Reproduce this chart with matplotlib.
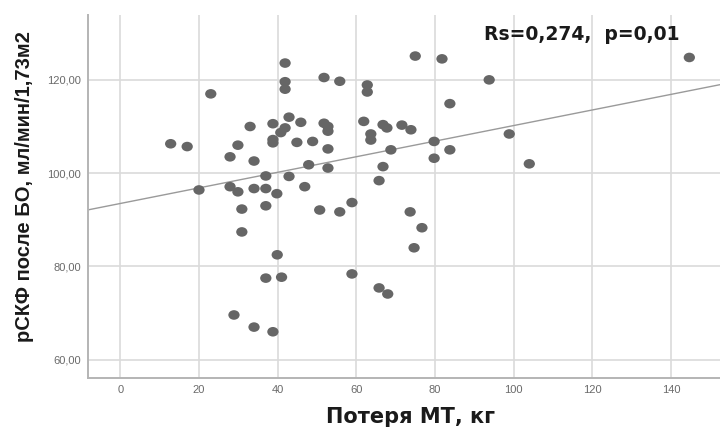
import numpy as np
import matplotlib
matplotlib.use("Agg")
import matplotlib.pyplot as plt
from matplotlib.path import Path
from matplotlib.transforms import Affine2D
from matplotlib.ticker import FuncFormatter, FixedLocator

# Data
weight_loss = [12.8, 17.0, 23.0, 20.0, 27.9, 29.9, 33.0, 34.0, 27.9, 29.9,
               34.0, 37.0, 37.0, 39.8, 30.9, 37.0, 38.8, 38.8, 38.8, 41.9,
               41.9, 41.9, 42.9, 41.9, 40.8, 45.9, 44.9, 48.9, 47.9, 42.9,
               46.9, 51.8, 55.8, 51.8, 52.8, 52.8, 52.8, 52.8, 50.7, 55.8,
               58.9, 61.9, 75.0, 81.8, 62.8, 62.8, 93.8, 83.8, 144.7, 66.8,
               67.8, 71.6, 73.9, 63.7, 63.7, 68.8, 79.8, 79.8, 83.8, 98.9,
               104.0, 66.8, 65.8, 73.7, 30.9, 39.9, 37.0, 41.0, 58.9, 28.9,
               34.0, 38.8, 76.7, 74.7, 65.8, 68.0]
egfr_after = [106.3, 105.7, 117.0, 96.4, 103.5, 106.0, 110.0, 102.6, 97.1, 96.0,
              96.7, 96.7, 99.4, 95.6, 92.3, 93.0, 110.6, 106.5, 107.2, 123.6,
              119.6, 118.0, 112.0, 109.7, 108.7, 110.9, 106.6, 106.8, 101.8, 99.3,
              97.1, 120.5, 119.7, 110.7, 110.0, 109.0, 105.2, 101.1, 92.1, 91.7,
              93.7, 111.1, 125.1, 124.5, 118.9, 117.4, 120.0, 114.9, 124.8, 110.4,
              109.7, 110.3, 109.3, 108.4, 107.1, 105.0, 106.8, 103.2, 105.0, 108.4,
              102.0, 101.4, 98.4, 91.7, 87.4, 82.5, 77.5, 77.7, 78.4, 69.6,
              67.0, 66.0, 88.3, 84.0, 75.4, 74.1]

fit_intercept = 93.5
fit_slope = 0.167

x_ticks = [0, 20, 40, 60, 80, 100, 120, 140]
y_ticks = [60, 80, 100, 120]

annotation = "Rs=0,274,  p=0,01"
x_label = "Потеря МТ, кг"
y_label = "рСКФ после БО, мл/мин/1,73м2"

plt.rcParams['font.family'] = ['Liberation Sans', 'DejaVu Sans']

fig = plt.figure(figsize=(7.2, 4.29), dpi=100)
ax = fig.add_axes([0.1218, 0.119, 0.8782, 0.846])

xmin, xmax = -8.3, 152.5
ymin, ymax = 56.1, 133.9
ax.set_xlim(xmin, xmax)
ax.set_ylim(ymin, ymax)

ax.xaxis.set_major_locator(FixedLocator(x_ticks))
ax.yaxis.set_major_locator(FixedLocator(y_ticks))
ax.yaxis.set_major_formatter(FuncFormatter(lambda v, p: f"{v:.2f}".replace('.', ',')))
ax.xaxis.set_major_formatter(FuncFormatter(lambda v, p: f"{int(v)}"))

ax.grid(True, color='#dadada', linewidth=1.2)
ax.set_axisbelow(True)
for s in ['top', 'right']:
    ax.spines[s].set_visible(False)
for s in ['left', 'bottom']:
    ax.spines[s].set_color('#b4b4b4')
    ax.spines[s].set_linewidth(1.4)
ax.tick_params(length=0, labelsize=8, labelcolor='#6a6a6a', pad=5)

# fit line
xs = np.array([xmin, xmax])
ax.plot(xs, fit_intercept + fit_slope * xs, color='#9a9a9a', linewidth=1.0, zorder=2)

ellipse = Path.unit_circle().transformed(Affine2D().scale(1.0, 0.85))
ax.scatter(weight_loss, egfr_after, s=66, marker=ellipse, color='#666666',
           edgecolors='none', zorder=3)

ax.set_xlabel(x_label, fontsize=15, fontweight='bold', color='#1a1a1a', labelpad=9,
              family=['DejaVu Sans'])
ax.xaxis.label.set_x(0.511)
ax.set_ylabel(y_label, fontsize=14.5, fontweight='bold', color='#1a1a1a')
ax.yaxis.set_label_coords(-0.085, 0.528)

ax.text(0.627, 0.945, annotation, transform=ax.transAxes, fontsize=13.5,
        fontweight='bold', color='#1a1a1a', va='center', ha='left',
        family=['DejaVu Sans'])

fig.savefig('out.png', dpi=100)
